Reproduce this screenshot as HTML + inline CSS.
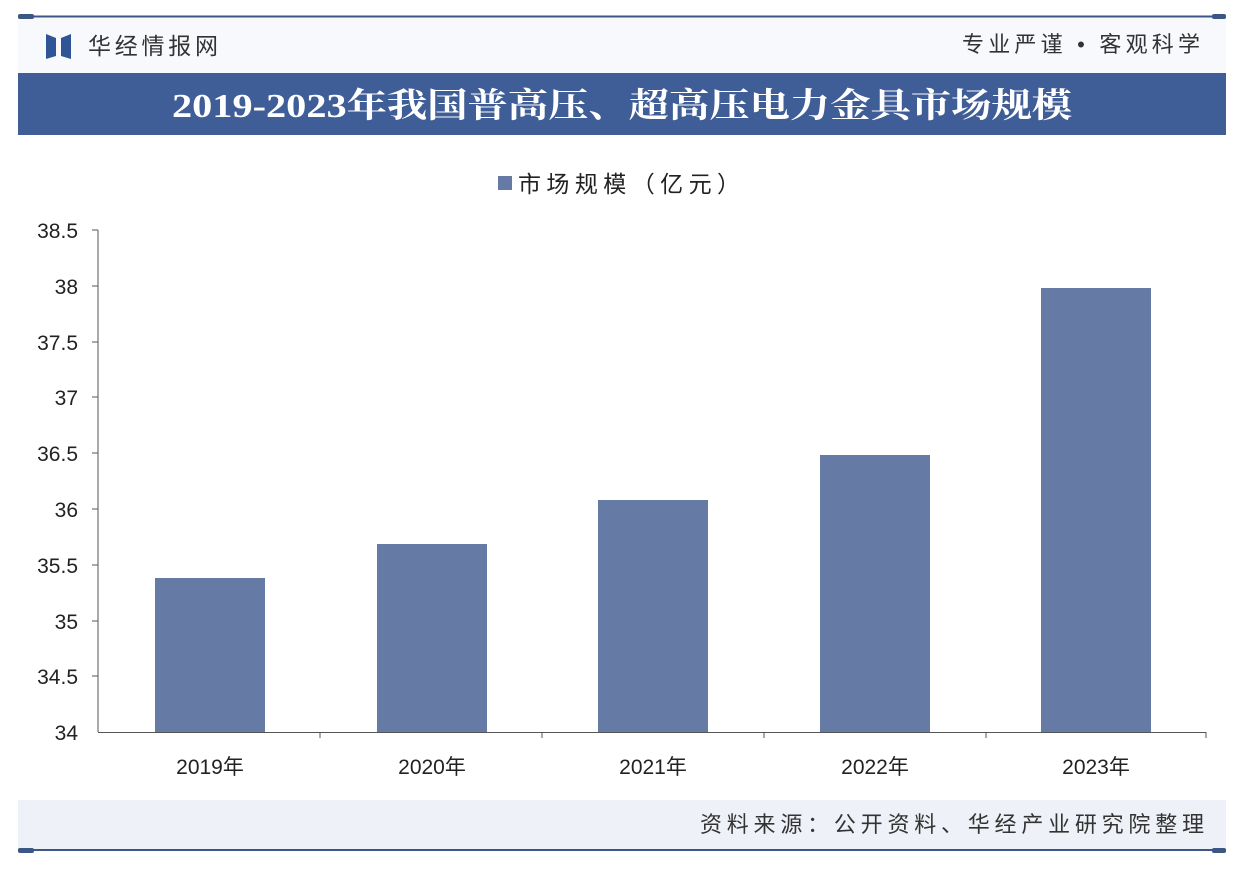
<!DOCTYPE html>
<html><head><meta charset="utf-8"><style>
html,body{margin:0;padding:0;background:#fff;}
svg{display:block;font-family:"Liberation Sans","Noto Sans CJK SC",sans-serif;}
</style></head><body>
<svg width="1238" height="870" viewBox="0 0 1238 870" xmlns="http://www.w3.org/2000/svg">
<rect width="1238" height="870" fill="#fff"/>
<rect x="18" y="16" width="1208" height="835" fill="#f8f9fc"/>
<line x1="18" y1="16.5" x2="1226" y2="16.5" stroke="#3c5686" stroke-width="2"/>
<rect x="18" y="14" width="16" height="5" rx="2" fill="#3c5686"/>
<rect x="1212" y="14" width="14" height="5" rx="2" fill="#3c5686"/>
<path d="M46 34 L56 38 L56 56 L46 59 Z" fill="#2f5597"/>
<path d="M71 34 L61 38 L61 56 L71 59 Z" fill="#2f5597"/>
<text x="88" y="54" font-size="23" fill="#333" textLength="130" lengthAdjust="spacing">华经情报网</text>
<text x="962" y="52" font-size="22" fill="#333" textLength="238" lengthAdjust="spacing">专业严谨 • 客观科学</text>
<rect x="18" y="73" width="1208" height="62" fill="#3f5d96"/>
<text x="172" y="117" font-size="34" font-weight="bold" fill="#fff" textLength="900" lengthAdjust="spacingAndGlyphs" font-family="Liberation Serif,Noto Serif CJK SC,serif">2019-2023年我国普高压、超高压电力金具市场规模</text>
<rect x="18" y="135" width="1208" height="665" fill="#fff"/>
<rect x="498" y="176" width="14" height="14" fill="#657ba6"/>
<text x="518" y="192" font-size="23" fill="#222" textLength="222" lengthAdjust="spacing">市场规模（亿元）</text>
<g font-size="21" fill="#222" text-anchor="end">
<text x="78" y="238">38.5</text><text x="78" y="294">38</text><text x="78" y="350">37.5</text>
<text x="78" y="405">37</text><text x="78" y="461">36.5</text><text x="78" y="517">36</text>
<text x="78" y="573">35.5</text><text x="78" y="629">35</text><text x="78" y="684">34.5</text>
<text x="78" y="740">34</text>
</g>
<g stroke="#555" stroke-width="1">
<line x1="98" y1="230" x2="98" y2="732"/>
<line x1="98" y1="732.5" x2="1206" y2="732.5"/>
<line x1="92" y1="230" x2="98" y2="230"/><line x1="92" y1="286" x2="98" y2="286"/><line x1="92" y1="342" x2="98" y2="342"/>
<line x1="92" y1="397" x2="98" y2="397"/><line x1="92" y1="453" x2="98" y2="453"/><line x1="92" y1="509" x2="98" y2="509"/>
<line x1="92" y1="565" x2="98" y2="565"/><line x1="92" y1="621" x2="98" y2="621"/><line x1="92" y1="676" x2="98" y2="676"/>
<line x1="320" y1="732" x2="320" y2="738"/><line x1="542" y1="732" x2="542" y2="738"/><line x1="764" y1="732" x2="764" y2="738"/>
<line x1="986" y1="732" x2="986" y2="738"/><line x1="1206" y1="732" x2="1206" y2="738"/>
</g>
<g fill="#657ba6">
<rect x="155" y="578" width="110" height="154"/>
<rect x="377" y="544" width="110" height="188"/>
<rect x="598" y="500" width="110" height="232"/>
<rect x="820" y="455" width="110" height="277"/>
<rect x="1041" y="288" width="110" height="444"/>
</g>
<g font-size="21" fill="#222" text-anchor="middle">
<text x="210" y="774">2019年</text><text x="432" y="774">2020年</text><text x="653" y="774">2021年</text>
<text x="875" y="774">2022年</text><text x="1096" y="774">2023年</text>
</g>
<rect x="18" y="800" width="1208" height="49" fill="#eef1f7"/>
<text x="700" y="832" font-size="22" fill="#333" textLength="504" lengthAdjust="spacing">资料来源：公开资料、华经产业研究院整理</text>
<line x1="18" y1="850" x2="1226" y2="850" stroke="#3c5686" stroke-width="2"/>
<rect x="18" y="848" width="16" height="5" rx="2" fill="#3c5686"/>
<rect x="1212" y="848" width="14" height="5" rx="2" fill="#3c5686"/>
</svg>
</body></html>
